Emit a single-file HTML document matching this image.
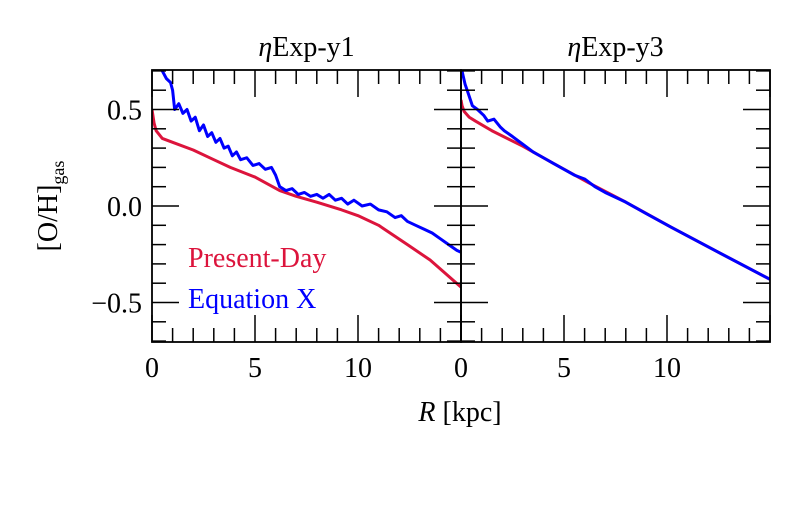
<!DOCTYPE html>
<html><head><meta charset="utf-8"><style>
body{margin:0;background:#fff}
</style></head><body>
<svg id="chart" width="800" height="500" viewBox="0 0 800 500" xmlns="http://www.w3.org/2000/svg" font-family="'Liberation Serif', 'DejaVu Serif', serif" style="font-family:'Liberation Serif','DejaVu Serif',serif"></svg>
<script>
const xTicks=[0,5,10];
const yTicks=[-0.5,0.0,0.5];
const yTickLabels=["\u22120.5","0.0","0.5"];
const leftRedX=[0,0.1,0.2,0.5,1,2,3,3.8,5,6.2,7,8,9.2,10,11,12.4,13.5,15];
const leftRedY=[0.5,0.43,0.39,0.35,0.33,0.29,0.24,0.2,0.15,0.08,0.05,0.02,-0.02,-0.05,-0.1,-0.2,-0.28,-0.42];
const leftBlueX=[0.5,0.7,0.9,1.0,1.1,1.3,1.5,1.7,1.9,2.1,2.3,2.5,2.7,2.9,3.1,3.3,3.5,3.7,3.9,4.1,4.3,4.6,4.9,5.2,5.5,5.8,6.0,6.2,6.5,6.8,7.1,7.4,7.7,8.0,8.3,8.6,8.9,9.2,9.5,9.8,10.2,10.6,11.0,11.4,11.8,12.1,12.4,12.8,13.2,13.6,14.0,14.4,14.8,15];
const leftBlueY=[0.7,0.66,0.64,0.6,0.5,0.53,0.48,0.5,0.44,0.46,0.39,0.42,0.36,0.38,0.33,0.35,0.3,0.31,0.26,0.28,0.24,0.25,0.21,0.22,0.19,0.2,0.16,0.1,0.08,0.09,0.06,0.07,0.05,0.06,0.04,0.06,0.03,0.04,0.01,0.03,0.0,0.01,-0.02,-0.03,-0.06,-0.05,-0.08,-0.1,-0.12,-0.14,-0.17,-0.2,-0.23,-0.24];
const rightRedX=[0,0.05,0.15,0.4,0.7,1.5,3,4.5,6.2,8,10.2,12.5,15];
const rightRedY=[0.55,0.52,0.49,0.46,0.44,0.39,0.31,0.22,0.12,0.02,-0.11,-0.24,-0.38];
const rightBlueX=[0.05,0.2,0.3,0.55,0.8,1.1,1.3,1.6,1.9,2.1,2.5,3,3.5,4,4.5,5,5.5,6,6.5,7,8,9,10.2,12.5,15];
const rightBlueY=[0.7,0.63,0.6,0.52,0.5,0.47,0.44,0.45,0.41,0.39,0.36,0.32,0.28,0.25,0.22,0.19,0.16,0.14,0.1,0.07,0.02,-0.04,-0.11,-0.24,-0.38];
const NS="http://www.w3.org/2000/svg";
const svg=document.getElementById('chart');
function el(t,a,p){const e=document.createElementNS(NS,t);for(const k in a)e.setAttribute(k,a[k]);(p||svg).appendChild(e);return e;}
const T=70,B=342;
function ys(v){return 206-v*193;}
function makePanel(x0,title,rx,ry,bx,by,showY,name){
  const g=el('g',{});
  
  
  const W=309;const xs=v=>x0+v*W/15;
  const clip=el('clipPath',{id:'c'+name},g);el('rect',{x:x0,y:T,width:W,height:B-T},clip);
  const pl=(X,Y,c,n)=>{const p=el('polyline',{points:X.map((x,i)=>xs(x)+','+ys(Y[i])).join(' '),fill:'none',stroke:c,'stroke-width':3,'stroke-linejoin':'round','clip-path':'url(#c'+name+')'},g);
    
    };
  pl(rx,ry,'#dc143c','present-day-line');
  pl(bx,by,'#0000ff','equation-x-line');
  for(let i=0;i<=15;i++){const x=xs(i),L=(i%5==0)?27:14;
    el('line',{x1:x,y1:T,x2:x,y2:T+L,stroke:'#000','stroke-width':1.5},g);
    el('line',{x1:x,y1:B,x2:x,y2:B-L,stroke:'#000','stroke-width':1.5},g);}
  for(let i=-7;i<=7;i++){const y=ys(i/10),L=(i%5==0)?27:14;
    el('line',{x1:x0,y1:y,x2:x0+L,y2:y,stroke:'#000','stroke-width':1.5},g);
    el('line',{x1:x0+W,y1:y,x2:x0+W-L,y2:y,stroke:'#000','stroke-width':1.5},g);}
  el('rect',{x:x0,y:T,width:W,height:B-T,fill:'none',stroke:'#000','stroke-width':1.8},g);
  xTicks.forEach(v=>{const t=el('text',{x:xs(v),y:377,'font-size':28,'text-anchor':'middle'},g);t.textContent=v;
    
    });
  if(showY)yTicks.forEach((v,i)=>{const t=el('text',{x:x0-10,y:ys(v)+10,'font-size':28,'text-anchor':'end'},g);t.textContent=yTickLabels[i];
    
    });
  const tt=el('text',{x:x0+W/2,y:56,'font-size':28,'text-anchor':'middle'},g);
  tt.innerHTML='<tspan font-style="italic">η</tspan>'+title;
  
  
}
makePanel(152,'Exp-y1',leftRedX,leftRedY,leftBlueX,leftBlueY,true,'left-panel');
makePanel(461,'Exp-y3',rightRedX,rightRedY,rightBlueX,rightBlueY,false,'right-panel');
let t=el('text',{x:188,y:267,'font-size':28});t.textContent='Present-Day';t.style.fill='#dc143c';


t=el('text',{x:188,y:308,'font-size':28});t.textContent='Equation X';t.style.fill='#0000ff';


t=el('text',{x:460,y:421,'font-size':28,'text-anchor':'middle'});t.innerHTML='<tspan font-style="italic">R</tspan> [kpc]';


t=el('text',{x:0,y:0,'font-size':28,'text-anchor':'middle',transform:'translate(57,206) rotate(-90)'});t.innerHTML='[O/H]<tspan font-size="18" dy="7">gas</tspan>';


</script>
</body></html>
